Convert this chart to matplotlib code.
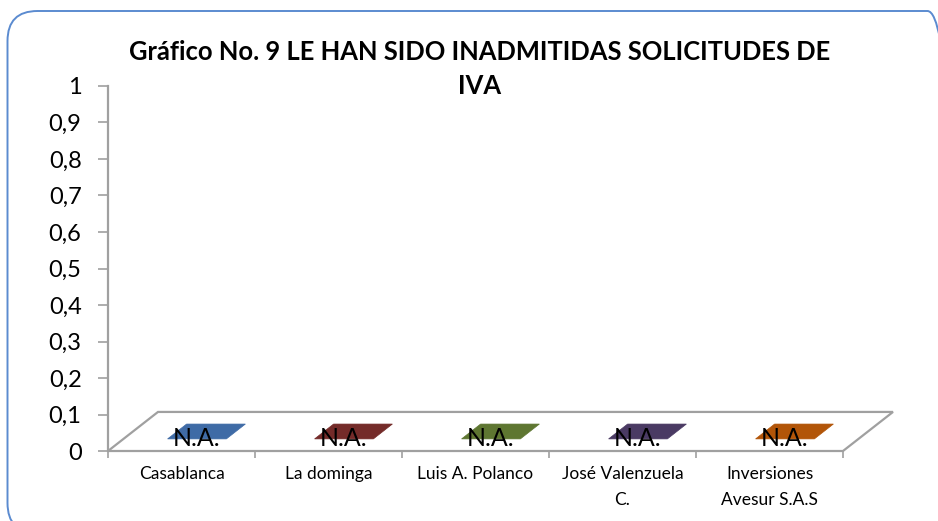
import matplotlib.pyplot as plt
from matplotlib.patches import FancyBboxPatch, Polygon

plt.rcParams['font.family'] = ['Lato', 'DejaVu Sans']

TITLE = "Gráfico No. 9 LE HAN SIDO INADMITIDAS SOLICITUDES DE\nIVA"
categories = ["Casablanca", "La dominga", "Luis A. Polanco", "José Valenzuela\nC.",
              "Inversiones\nAvesur S.A.S"]
values = [0, 0, 0, 0, 0]
bar_labels = ["N.A.", "N.A.", "N.A.", "N.A.", "N.A."]
bar_colors = ["#3f6ba6", "#742b29", "#5e7631", "#4a3a63", "#b25508"]
y_ticks = [0, 0.1, 0.2, 0.3, 0.4, 0.5, 0.6, 0.7, 0.8, 0.9, 1]

# fake 3d depth, in data units
DX = 0.34
DY = 0.107
GRAY = "#a0a0a0"

fig = plt.figure(figsize=(9.38, 5.21), dpi=100)

# rounded border of the chart area (inches)
border = FancyBboxPatch((0.075, -0.12), 9.5, 5.22,
                        boxstyle="round,pad=0,rounding_size=0.3",
                        transform=fig.dpi_scale_trans, fill=False,
                        edgecolor="#5b8bd0", linewidth=1.4)
fig.patches.append(border)

ax = fig.add_axes([108 / 938, 70 / 521, 735 / 938, 365 / 521])
ax.set_xlim(0, len(categories))
ax.set_ylim(0, 1)

for side in ["top", "right", "bottom"]:
    ax.spines[side].set_visible(False)
ax.spines["left"].set_color(GRAY)
ax.spines["left"].set_linewidth(1.6)

ax.set_yticks(y_ticks)
ax.set_yticklabels([f"{t:g}".replace(".", ",") for t in y_ticks], fontsize=17)
ax.tick_params(axis="y", length=7, width=1.2, color=GRAY, pad=12)

ax.set_xticks(range(len(categories) + 1), minor=True)
ax.set_xticks([i + 0.5 for i in range(len(categories))])
ax.set_xticklabels(categories, fontsize=12.5, linespacing=1.75)
ax.tick_params(axis="x", which="major", length=0, pad=11)
ax.tick_params(axis="x", which="minor", length=5, width=1.2, color=GRAY)

# floor
n = len(categories)
floor = Polygon([(0, 0), (n, 0), (n + DX, DY), (DX, DY)], closed=True,
                fill=False, edgecolor=GRAY, linewidth=1.6, clip_on=False)
ax.add_patch(floor)

# flat bars (all zero) drawn as parallelogram tops
f1, f2 = 0.31, 0.69
w = 0.2
for i, (v, c, lab) in enumerate(zip(values, bar_colors, bar_labels)):
    cx = i + 0.5
    pts = [(cx - w + f1 * DX, v + f1 * DY), (cx + w + f1 * DX, v + f1 * DY),
           (cx + w + f2 * DX, v + f2 * DY), (cx - w + f2 * DX, v + f2 * DY)]
    ax.add_patch(Polygon(pts, closed=True, facecolor=c, edgecolor=c,
                         linewidth=0.5, clip_on=False))
    ax.text(cx + 0.1, v + 0.033, lab, ha="center", va="center", fontsize=18,
            color="black")

fig.text(480 / 938, 1 - 69 / 521, TITLE, ha="center", va="center", fontsize=18.4,
         fontweight="bold", linespacing=1.5)

fig.savefig("out.png", dpi=100)
